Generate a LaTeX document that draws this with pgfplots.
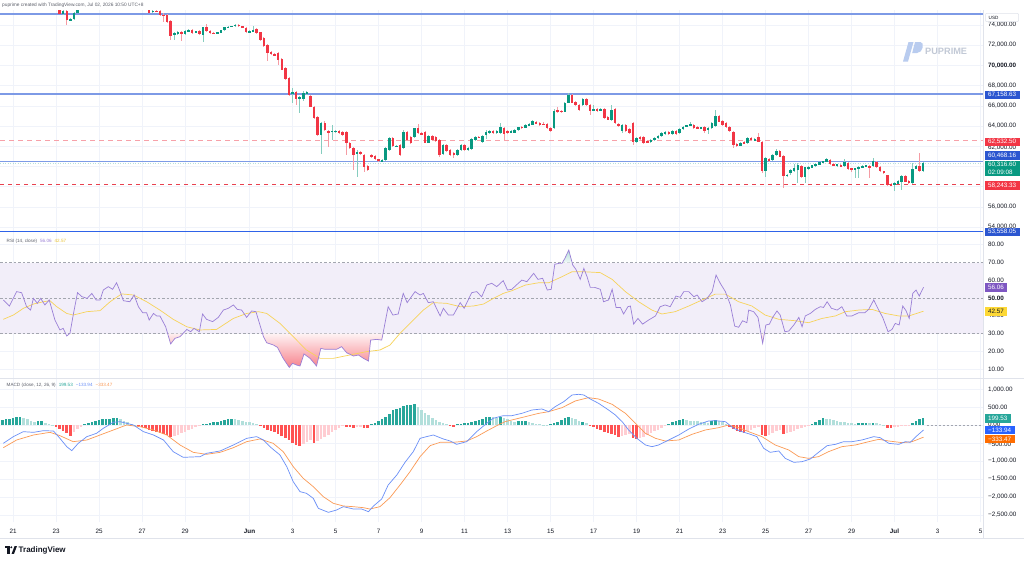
\documentclass[border=0pt]{standalone}
\usepackage{pgfplots}
\pgfplotsset{compat=1.18}
\usepackage{pgfplotstable}
\usepackage{fontspec}
\setmainfont{Liberation Sans}

\definecolor{txt}{HTML}{131722}
\definecolor{subtxt}{HTML}{5D606B}
\definecolor{gridc}{HTML}{F0F3FA}
\definecolor{sepc}{HTML}{E0E3EB}
\definecolor{upc}{HTML}{089981}
\definecolor{dnc}{HTML}{F23645}
\definecolor{upw}{HTML}{86CDBF}
\definecolor{dnw}{HTML}{F59CA4}
\definecolor{hline}{HTML}{7D9AE6}
\definecolor{hlinedk}{HTML}{2F63E8}
\definecolor{lvlpink}{HTML}{F7A1A9}
\definecolor{lvlred}{HTML}{E8414F}
\definecolor{curline}{HTML}{5FBFAE}
\definecolor{boxblue}{HTML}{2B56D0}
\definecolor{rsic}{HTML}{9A7FD6}
\definecolor{rsima}{HTML}{F7D35A}
\definecolor{rsiband}{RGB}{242,238,249}
\definecolor{rsidash}{HTML}{A3A6AF}
\definecolor{rsibox}{HTML}{7E57C2}
\definecolor{mabox}{HTML}{FDD835}
\definecolor{matxt}{HTML}{E9C232}
\definecolor{macdc}{HTML}{6A8FF7}
\definecolor{sigc}{HTML}{FB9A55}
\definecolor{hdg}{HTML}{26A69A}
\definecolor{hlg}{HTML}{B2DFDB}
\definecolor{hdr}{HTML}{FF5252}
\definecolor{hlr}{HTML}{FFCDD2}
\definecolor{macdbox}{HTML}{2962FF}
\definecolor{sigbox}{HTML}{FF6D00}
\definecolor{wm}{HTML}{B9CCEF}
\definecolor{wmtxt}{HTML}{C2C9D6}

% 4-hour candles, x = candle index (6 per day), prices in thousands of USD
\pgfplotstableread{
k o h l c
123 76.80 77.00 76.50 76.60
124 76.60 76.90 76.40 76.70
125 76.70 76.80 76.20 76.30
126 76.30 76.60 76.10 76.50
127 76.50 77.00 76.40 76.90
128 76.90 77.10 76.60 76.70
129 76.70 76.80 76.20 76.30
130 76.30 76.50 75.90 76.00
131 76.00 76.60 75.90 76.50
132 76.50 76.60 76.10 76.20
133 76.20 76.70 76.10 76.60
134 76.60 76.70 76.20 76.30
135 76.30 76.50 76.10 76.40
136 76.40 76.50 75.80 75.90
137 75.90 76.00 75.60 75.70
138 75.70 75.80 75.55 75.60
139 75.60 75.70 75.05 75.09
140 75.12 75.45 75.00 75.36
141 75.36 75.50 73.97 74.47
142 74.47 74.70 74.35 74.62
143 74.55 75.30 74.45 75.22
144 75.22 75.70 75.15 75.55
145 75.55 76.20 75.52 76.00
146 76.00 76.50 75.90 76.30
147 76.30 76.90 76.20 76.80
148 76.80 77.20 76.60 77.00
149 77.00 77.30 76.70 76.80
150 76.80 77.10 76.60 77.00
151 77.00 77.50 76.90 77.40
152 77.40 77.60 77.10 77.20
153 77.20 77.80 77.10 77.70
154 77.70 78.00 77.50 77.90
155 77.90 78.00 77.30 77.40
156 77.40 77.50 76.90 77.00
157 77.00 77.20 76.80 77.10
158 77.10 77.40 76.90 77.30
159 77.30 77.40 76.70 76.80
160 76.80 76.90 76.30 76.40
161 76.40 76.60 76.00 76.20
162 76.20 76.30 75.80 75.90
163 75.90 76.00 75.60 75.70
164 75.70 75.80 75.15 75.20
165 75.30 75.50 75.20 75.40
166 75.40 75.50 75.25 75.32
167 75.42 75.55 74.90 75.02
168 75.02 75.20 74.30 74.95
169 75.00 75.10 74.20 74.30
170 74.37 74.45 72.49 72.88
171 72.98 73.30 72.50 73.21
172 73.11 73.40 73.00 73.31
173 73.31 73.40 72.39 73.20
174 73.14 73.50 73.05 73.44
175 73.37 73.60 73.30 73.53
176 73.53 73.60 73.10 73.21
177 73.30 73.45 73.20 73.40
178 73.40 73.50 73.05 73.14
179 73.04 73.85 72.29 73.80
180 73.80 74.13 73.35 73.38
181 73.40 73.50 73.10 73.24
182 73.24 73.35 73.10 73.20
183 73.20 73.35 73.15 73.30
184 73.25 73.55 73.20 73.50
185 73.50 73.80 73.45 73.77
186 73.77 73.90 73.70 73.85
187 73.85 73.95 73.80 73.90
188 73.90 74.10 73.85 74.02
189 74.02 74.10 73.85 73.90
190 73.90 73.95 73.75 73.80
191 73.75 73.80 73.25 73.30
192 73.30 73.50 73.25 73.40
193 73.35 73.90 73.30 73.55
194 73.60 73.70 73.15 73.20
195 73.30 73.35 72.45 72.50
196 72.70 72.80 71.85 71.90
197 72.00 72.10 70.40 71.25
198 71.30 71.40 71.00 71.10
199 71.10 71.20 70.90 71.00
200 71.20 71.30 70.04 70.55
201 70.60 70.70 69.50 69.55
202 69.70 69.80 68.60 68.70
203 68.80 68.90 67.00 67.07
204 67.17 67.73 66.25 67.40
205 67.40 67.50 66.08 66.67
206 66.64 66.95 65.26 66.84
207 66.64 67.50 66.50 67.30
208 67.20 67.50 67.10 67.40
209 66.97 67.10 65.85 65.91
210 65.90 66.00 64.70 64.76
211 64.86 64.95 63.05 63.11
212 63.11 64.40 61.23 64.27
213 64.27 64.50 63.50 63.60
214 63.50 63.60 61.95 63.40
215 63.40 64.10 62.60 63.55
216 63.45 63.60 63.35 63.50
217 63.50 63.60 63.25 63.30
218 63.40 63.50 63.00 63.10
219 63.44 63.50 61.13 62.29
220 62.30 62.40 61.70 61.79
221 61.80 61.90 59.65 61.14
222 61.23 61.60 58.98 61.46
223 61.46 61.55 61.15 61.23
224 61.13 61.20 59.40 59.91
225 60.04 60.10 59.50 59.65
226 61.13 61.25 60.80 60.90
227 61.03 61.10 60.60 60.70
228 60.70 60.75 60.40 60.50
229 60.50 60.70 60.45 60.60
230 60.64 61.90 60.55 61.80
231 61.63 62.95 61.55 62.80
232 62.80 62.90 61.90 62.00
233 62.00 62.15 61.90 62.05
234 62.10 62.20 61.00 61.10
235 61.79 63.60 61.70 63.44
236 63.44 63.55 62.50 62.60
237 62.90 63.00 62.20 62.30
238 62.94 63.85 62.85 63.77
239 63.77 64.20 63.20 63.27
240 63.30 63.40 63.10 63.20
241 63.44 63.50 62.30 62.35
242 62.35 63.10 62.30 63.00
243 63.00 63.10 62.50 62.60
244 62.90 63.00 62.40 62.50
245 62.60 62.70 60.95 61.13
246 61.20 62.20 61.10 62.10
247 62.10 62.20 61.40 61.50
248 61.60 61.70 61.05 61.13
249 61.30 61.40 60.80 61.10
250 61.13 61.70 61.05 61.60
251 61.60 62.20 61.50 62.10
252 62.10 62.20 61.50 61.60
253 61.65 61.90 61.55 61.80
254 61.70 62.80 61.60 62.70
255 62.60 63.00 62.50 62.90
256 62.95 63.05 62.80 62.85
257 62.45 63.10 62.35 63.00
258 63.10 63.60 62.70 63.40
259 63.30 63.60 63.20 63.50
260 63.50 63.60 63.20 63.30
261 63.30 63.60 63.25 63.50
262 63.30 64.30 63.20 63.95
263 63.77 63.90 62.60 63.20
264 63.50 63.60 63.25 63.35
265 63.35 63.60 63.30 63.55
266 63.35 63.70 63.30 63.65
267 63.60 63.95 63.50 63.90
268 63.95 64.05 63.75 63.80
269 63.85 64.20 63.80 64.15
270 64.05 64.30 64.00 64.20
271 64.15 64.55 64.10 64.45
272 64.40 64.50 64.20 64.25
273 64.30 64.40 64.05 64.10
274 64.24 64.35 64.10 64.18
275 64.20 64.30 63.75 63.80
276 63.80 63.90 63.45 63.55
277 63.77 65.70 63.70 65.52
278 65.60 65.90 65.30 65.45
279 65.50 65.60 65.30 65.40
280 65.42 66.40 65.35 66.31
281 66.31 67.30 66.25 67.07
282 67.07 67.20 66.25 66.31
283 66.35 66.45 65.95 66.05
284 66.10 66.20 65.45 65.55
285 66.05 66.80 65.95 66.70
286 66.70 66.80 66.00 66.10
287 66.10 66.20 65.10 65.45
288 65.55 66.10 65.45 65.70
289 65.65 65.75 65.40 65.50
290 65.50 65.75 65.45 65.65
291 65.68 65.80 64.70 64.76
292 64.90 65.00 64.55 64.60
293 64.60 66.10 64.50 65.60
294 65.68 65.80 64.20 64.27
295 64.20 64.30 63.95 64.00
296 63.50 64.20 63.30 64.10
297 64.10 64.20 63.40 63.50
298 63.70 63.80 63.20 63.30
299 64.27 64.35 62.10 62.45
300 62.45 62.95 62.35 62.85
301 62.90 63.00 62.60 62.70
302 62.90 63.00 62.25 62.35
303 62.50 62.60 62.30 62.35
304 62.40 62.70 62.35 62.60
305 62.60 62.95 62.50 62.85
306 62.80 63.10 62.75 63.00
307 63.00 63.40 62.95 63.30
308 63.20 63.50 63.15 63.40
309 63.40 63.50 63.10 63.20
310 63.20 63.60 63.15 63.50
311 63.55 63.65 63.10 63.20
312 63.30 63.80 63.25 63.75
313 63.70 64.00 63.65 63.95
314 63.95 64.15 63.90 64.10
315 64.10 64.35 64.05 64.20
316 64.10 64.20 63.75 63.80
317 63.90 64.00 63.75 63.80
318 63.80 63.95 63.75 63.90
319 63.95 64.05 63.30 63.55
320 63.60 63.90 63.20 63.80
321 63.80 64.35 63.75 64.30
322 64.00 65.55 63.95 65.00
323 65.00 65.10 64.35 64.40
324 64.50 64.60 64.05 64.10
325 64.30 64.40 63.85 63.90
326 63.95 64.05 63.45 63.50
327 63.44 63.50 61.80 62.15
328 62.20 62.30 61.95 62.05
329 62.05 62.40 62.00 62.35
330 62.40 62.50 62.20 62.30
331 62.30 62.95 62.25 62.85
332 62.85 62.95 62.50 62.60
333 62.55 62.80 62.50 62.70
334 62.95 63.30 62.40 62.45
335 62.45 62.50 59.30 59.55
336 59.55 60.90 58.98 60.80
337 60.75 60.85 60.40 60.50
338 60.60 61.20 60.50 61.10
339 61.10 61.75 61.00 61.50
340 61.50 61.60 60.90 60.95
341 61.03 61.10 57.83 59.05
342 59.05 59.30 59.00 59.20
343 59.30 59.70 59.20 59.60
344 59.50 60.20 59.40 59.80
345 59.60 60.35 58.40 60.10
346 60.04 60.15 58.90 58.98
347 58.98 59.95 58.40 59.90
348 59.70 60.00 59.60 59.95
349 59.85 60.15 59.80 60.10
350 60.00 60.30 59.95 60.25
351 60.15 60.45 60.10 60.40
352 60.35 60.55 60.30 60.50
353 60.45 60.80 60.40 60.70
354 60.65 60.75 60.15 60.20
355 60.25 60.30 60.00 60.05
356 60.05 60.25 59.95 60.20
357 60.10 60.20 59.90 59.95
358 60.00 60.70 59.95 60.40
359 60.30 60.40 59.65 59.70
360 59.80 59.85 59.40 59.65
361 59.65 59.85 58.90 59.80
362 59.70 60.00 58.85 59.95
363 59.90 60.10 59.85 60.05
364 59.95 60.15 59.90 60.10
365 60.05 60.15 58.90 59.90
366 60.00 60.80 59.95 60.50
367 60.45 60.55 59.85 59.90
368 59.95 60.00 59.45 59.50
369 59.50 59.55 59.25 59.30
370 59.15 59.20 58.10 58.16
371 58.30 58.35 58.05 58.10
372 58.20 58.45 57.60 58.40
373 58.30 58.70 58.25 58.60
374 58.45 59.15 57.67 59.05
375 59.10 59.20 58.45 58.50
376 58.60 58.65 58.30 58.40
377 58.33 60.31 58.25 59.71
378 59.75 60.10 59.70 60.00
379 60.05 61.30 59.45 59.50
380 59.50 60.40 59.45 60.3166
}\candles

% RSI (14) and its moving average
\pgfplotstableread{
k v
123.3 48.9
125.0 45.5
127.0 53.6
128.4 53.0
129.8 45.1
130.9 43.2
131.7 49.8
132.8 47.0
133.7 49.8
134.9 46.1
136.1 48.9
137.7 37.6
139.1 32.0
140.0 32.9
141.0 28.6
141.9 30.1
142.8 40.4
144.0 53.0
145.2 50.8
146.7 49.8
148.0 52.6
149.2 48.9
150.3 48.9
151.2 54.5
152.6 56.4
153.8 54.9
154.9 58.6
155.9 53.6
156.8 48.5
158.6 47.9
159.8 51.7
161.0 45.1
162.2 41.7
163.3 41.7
164.0 37.6
165.2 41.3
166.1 39.9
167.0 39.9
168.6 33.8
170.0 24.1
171.2 27.3
172.6 28.2
174.5 32.3
175.6 31.0
176.5 32.9
178.0 31.0
178.9 41.0
180.0 38.0
181.7 36.7
183.3 39.1
184.7 43.2
186.1 44.2
187.5 46.1
188.6 43.6
189.8 43.2
191.2 39.1
192.6 42.7
193.8 42.3
195.9 28.2
196.8 24.8
198.7 23.5
199.8 22.2
201.4 16.0
203.1 10.9
204.0 13.2
205.2 12.2
206.1 11.7
207.2 18.5
208.9 16.0
210.7 11.7
211.9 21.6
213.1 21.1
214.5 21.1
216.3 21.1
217.7 22.6
219.1 19.2
221.0 17.3
222.4 17.9
223.8 16.0
225.2 14.5
225.8 26.3
227.5 26.7
228.9 26.3
230.7 45.1
232.0 40.4
233.5 41.0
234.9 52.6
236.0 47.4
238.2 53.6
239.6 51.7
240.5 52.6
241.9 47.4
243.3 47.9
245.2 39.9
246.1 44.2
247.5 40.4
248.9 40.4
250.8 47.4
251.9 44.2
254.0 53.0
255.4 53.6
256.8 50.7
258.2 57.3
259.6 58.3
261.0 56.4
262.8 59.8
264.0 54.5
265.2 54.9
266.2 56.8
268.0 60.1
269.4 59.2
271.3 63.9
272.5 60.5
273.8 61.1
275.1 54.5
276.2 54.9
277.2 69.0
278.3 69.5
279.2 69.5
280.0 72.3
281.1 77.0
282.2 68.6
283.1 66.1
284.3 60.5
285.3 66.7
286.2 62.0
287.1 56.0
288.3 56.0
289.9 54.9
290.8 47.9
292.2 48.9
293.2 54.9
294.3 44.7
295.5 44.7
296.4 41.0
297.6 45.1
298.3 45.5
299.2 35.3
300.4 38.5
301.7 35.3
303.4 37.6
305.3 39.9
306.6 45.1
308.0 46.1
309.4 45.1
311.0 51.1
312.2 50.4
313.2 53.6
314.6 53.6
316.0 50.7
316.9 51.7
318.3 47.9
319.7 49.8
321.1 53.6
322.2 62.9
323.4 58.2
324.8 53.6
326.2 46.1
327.4 34.2
328.5 33.5
329.6 37.2
330.8 36.1
331.3 43.2
332.7 42.3
333.9 39.1
335.2 24.5
336.1 34.8
337.1 35.3
338.0 39.1
339.2 42.7
340.1 40.4
341.4 31.0
342.5 31.4
343.9 34.8
345.3 39.1
346.2 33.8
347.1 39.9
348.5 41.3
349.9 43.6
351.3 45.1
352.2 44.7
353.2 47.9
354.4 44.2
356.0 43.2
357.3 45.1
358.7 39.9
360.1 39.9
362.0 41.7
363.7 41.7
364.8 43.6
366.2 48.9
367.6 43.2
368.7 39.1
370.2 31.0
371.3 32.3
372.2 35.7
373.3 34.8
374.3 45.5
375.2 42.9
376.1 38.5
377.1 52.6
378.0 54.5
378.9 51.1
380.1 56.06
}\rsi

\pgfplotstableread{
k v
123.3 38.0
126.1 40.4
128.9 44.2
131.7 46.6
134.5 47.9
136.3 48.5
138.2 45.1
141.0 41.3
142.8 40.4
146.6 42.3
150.3 42.9
153.1 47.9
156.3 52.3
159.6 51.7
163.3 47.9
167.0 43.2
170.7 38.0
174.5 33.8
178.2 32.0
182.8 32.3
187.5 38.5
191.2 41.3
194.5 42.3
196.8 41.3
200.5 35.7
204.2 28.2
207.9 20.7
211.7 16.0
215.4 16.0
220.0 17.9
224.7 19.8
228.4 20.7
231.2 23.5
234.0 30.1
237.7 37.6
240.5 43.2
243.3 47.4
247.0 47.0
250.8 45.1
254.5 45.5
257.3 46.6
260.1 49.8
262.8 52.6
265.2 54.1
269.0 57.3
272.7 58.6
275.5 58.6
279.2 62.0
282.0 64.8
285.3 64.8
289.9 64.3
293.2 60.5
296.9 53.6
300.6 47.9
304.3 43.2
307.1 41.0
310.8 42.3
314.6 45.5
318.3 48.9
322.0 52.2
324.8 52.2
328.5 47.9
332.2 45.5
335.9 40.4
339.7 38.0
344.3 37.2
348.0 36.1
351.8 38.5
355.5 39.9
358.3 42.3
362.0 43.2
365.7 43.6
369.4 41.3
373.2 39.9
376.0 39.9
380.1 42.57
}\rsima

% MACD (12, 26, 9): line, signal, histogram (c: 0 rising up, 1 falling up, 2 falling down, 3 rising down)
\pgfplotstableread{
k v
123.3 -505
126.1 -319
128.9 -180
131.7 -199
134.5 -152
137.3 -162
139.1 -366
141.0 -598
142.4 -709
144.2 -505
146.6 -319
149.3 -227
151.2 -87
154.0 80
155.9 98
159.6 5
162.4 -180
165.2 -273
168.0 -412
170.7 -737
173.5 -895
178.2 -876
180.0 -783
183.8 -718
187.5 -551
191.2 -366
194.0 -319
195.9 -412
197.7 -598
200.5 -830
202.4 -1155
204.2 -1573
206.1 -1851
207.9 -1897
209.8 -2037
211.2 -2315
214.0 -2427
216.3 -2362
218.2 -2269
221.0 -2334
223.3 -2334
225.2 -2408
226.6 -2250
228.9 -2055
230.7 -1665
233.1 -1387
235.4 -1034
237.7 -737
239.6 -366
241.4 -319
243.3 -273
246.1 -384
248.0 -440
249.8 -533
252.6 -459
255.4 -180
258.2 52
260.0 191
262.8 265
265.2 265
268.0 330
270.8 423
273.6 451
275.5 377
277.3 516
279.7 655
282.0 841
283.9 860
285.3 841
287.1 730
289.4 609
292.2 423
294.1 284
296.0 98
297.8 -134
300.1 -366
302.5 -551
304.3 -598
306.2 -551
309.0 -412
311.8 -273
314.6 -106
317.3 24
320.1 117
322.0 126
324.8 98
327.1 -87
329.4 -180
331.8 -254
333.6 -319
335.5 -644
337.3 -756
339.7 -718
341.5 -923
343.9 -1034
346.2 -1016
348.5 -941
350.8 -756
353.2 -570
355.5 -533
357.8 -459
360.1 -459
362.9 -412
366.2 -319
368.0 -347
370.4 -505
373.2 -533
375.0 -459
376.4 -477
378.3 -291
380.1 -133.94
}\macd

\pgfplotstableread{
k v
123.3 -626
127.0 -412
131.7 -273
136.3 -199
139.1 -292
142.8 -459
146.6 -412
150.3 -273
154.0 -134
157.7 5
161.4 -41
165.2 -134
168.9 -273
172.6 -551
176.3 -756
180.0 -811
183.8 -756
187.5 -626
191.2 -459
194.9 -384
198.6 -505
201.4 -737
204.2 -1155
207.0 -1480
209.8 -1712
212.6 -1990
215.4 -2176
218.2 -2250
221.0 -2269
223.8 -2297
225.6 -2334
228.4 -2269
231.2 -2018
234.0 -1665
236.8 -1294
239.6 -876
242.4 -570
245.2 -477
248.9 -477
252.6 -440
255.4 -319
258.2 -162
261.0 -13
263.3 98
265.2 145
269.0 238
272.7 330
275.5 377
279.2 488
282.9 674
286.6 767
289.4 730
293.2 581
296.9 330
299.7 52
302.5 -227
305.3 -366
308.0 -440
311.8 -412
315.5 -254
319.2 -134
322.9 -69
325.7 5
328.5 -69
331.3 -180
335.0 -319
338.7 -551
342.5 -691
345.3 -876
348.0 -923
350.8 -876
353.6 -737
357.3 -598
361.1 -551
364.8 -459
367.6 -394
370.4 -440
374.1 -486
376.9 -459
380.1 -333.47
}\signal

\pgfplotstableread{
k v c
123 145 0
124 165 0
125 185 0
126 195 0
127 215 0
128 225 0
129 190 1
130 160 1
131 130 1
132 100 1
133 110 0
134 120 0
135 60 1
136 30 1
137 10 1
138 -50 2
139 -100 2
140 -160 2
141 -230 2
142 -290 2
143 -200 3
144 -110 3
145 -40 3
146 40 0
147 70 0
148 100 0
149 120 0
150 140 0
151 160 0
152 175 0
153 185 0
154 200 0
155 210 0
156 160 1
157 120 1
158 80 1
159 40 1
160 10 1
161 -25 2
162 -60 2
163 -90 2
164 -120 2
165 -150 2
166 -180 2
167 -210 2
168 -240 2
169 -280 2
170 -330 2
171 -310 3
172 -260 3
173 -220 3
174 -180 3
175 -140 3
176 -100 3
177 -60 3
178 -20 3
179 20 0
180 40 0
181 60 0
182 80 0
183 100 0
184 120 0
185 140 0
186 160 0
187 175 0
188 160 1
189 140 1
190 120 1
191 100 1
192 80 1
193 60 1
194 40 1
195 -30 2
196 -80 2
197 -130 2
198 -170 2
199 -200 2
200 -240 2
201 -290 2
202 -350 2
203 -420 2
204 -500 2
205 -560 2
206 -570 2
207 -530 3
208 -470 3
209 -420 3
210 -500 2
211 -450 3
212 -380 3
213 -320 3
214 -260 3
215 -200 3
216 -140 3
217 -80 3
218 -20 3
219 -45 2
220 -60 2
221 -70 2
222 -50 3
223 -40 3
224 -80 2
225 -90 2
226 20 0
227 60 0
228 110 0
229 170 0
230 230 0
231 300 0
232 420 0
233 450 0
234 470 0
235 540 0
236 550 0
237 570 0
238 590 0
239 500 1
240 420 1
241 350 1
242 280 1
243 210 1
244 150 1
245 90 1
246 50 1
247 20 1
248 -30 2
249 -45 2
250 20 0
251 30 0
252 50 0
253 60 0
254 90 0
255 120 0
256 150 0
257 180 0
258 220 0
259 240 0
260 220 1
261 210 1
262 215 0
263 210 1
264 170 1
265 130 1
266 100 1
267 110 0
268 120 0
269 125 0
270 90 1
271 60 1
272 40 1
273 25 1
274 10 1
275 5 1
276 20 0
277 60 0
278 100 0
279 150 0
280 200 0
281 240 0
282 200 1
283 160 1
284 120 1
285 100 0
286 60 1
287 -20 2
288 -60 2
289 -100 2
290 -140 2
291 -180 2
292 -220 2
293 -250 2
294 -280 2
295 -320 2
296 -300 3
297 -260 3
298 -240 3
299 -370 2
300 -380 2
301 -360 3
302 -320 3
303 -270 3
304 -220 3
305 -170 3
306 -120 3
307 -70 3
308 -20 3
309 40 0
310 80 0
311 110 0
312 140 0
313 165 0
314 150 1
315 130 1
316 120 1
317 110 1
318 95 1
319 80 1
320 60 1
321 120 0
322 150 0
323 110 1
324 80 1
325 40 1
326 -40 2
327 -100 2
328 -150 2
329 -190 2
330 -210 2
331 -170 3
332 -130 3
333 -90 3
334 -60 3
335 -280 2
336 -310 2
337 -270 3
338 -220 3
339 -170 3
340 -120 3
341 -250 2
342 -230 3
343 -190 3
344 -150 3
345 -110 3
346 -80 3
347 -40 3
348 -20 3
349 40 0
350 90 0
351 140 0
352 190 0
353 180 1
354 160 1
355 140 1
356 120 1
357 100 1
358 90 1
359 70 1
360 50 1
361 40 1
362 60 0
363 70 0
364 75 0
365 70 1
366 75 0
367 50 1
368 30 1
369 10 1
370 -70 2
371 -90 2
372 -60 3
373 -40 3
374 -30 3
375 -25 3
376 -20 3
377 60 0
378 110 0
379 160 0
380 199.53 0
}\hist

\pgfplotsset{
  pane/.style={scale only axis, width=983pt, xmin=122.37, xmax=396.7,
    axis line style={draw=none}, tick style={draw=none},
    xtick={126,138,150,162,174,192,204,216,228,240,252,264,276,288,300,312,324,336,348,360,372,384,396},
    xmajorgrids, ymajorgrids, grid style={gridc, line width=0.6pt},
    xticklabels={}, yticklabels={}},
  wick/.style={only marks, mark=*, mark size=0pt, mark options={draw=none, fill=none}, forget plot,
    /pgfplots/error bars/y dir=both, /pgfplots/error bars/y explicit,
    /pgfplots/error bars/error mark=none,
    /pgfplots/error bars/error bar style={line width=0.8pt, draw=#1}},
  body/.style={only marks, mark=*, mark size=0pt, mark options={draw=none, fill=none}, forget plot,
    /pgfplots/error bars/y dir=both, /pgfplots/error bars/y explicit,
    /pgfplots/error bars/error mark=none,
    /pgfplots/error bars/error bar style={line width=2.5pt, draw=#1}},
  hbar/.style={ycomb, no marks, line width=2.6pt, draw=#1, forget plot},
}
\tikzset{
  lab/.style={anchor=west, inner sep=0pt, font=\fontsize{6.3}{7}\selectfont, text=txt},
  tag/.style={anchor=west, inner xsep=3.6pt, inner ysep=0pt, minimum height=8.4pt,
    font=\fontsize{6.3}{7}\selectfont, text=white, fill=#1},
  ttl/.style={anchor=west, inner sep=0pt, font=\fontsize{4.6}{5}\selectfont},
}

\begin{document}
\begin{tikzpicture}
\fill[white] (0pt,0pt) rectangle (1024pt,-562pt);
\path[use as bounding box] (0pt,0pt) rectangle (1024pt,-562pt);

% ---------------- price pane ----------------
\begin{axis}[pane, at={(0pt,-234pt)}, anchor=south west, height=224pt,
  ymin=53.31, ymax=75.485, ytick={54,56,...,74}]
  \addplot[hline, line width=1.5pt, forget plot] coordinates {(122.37,75.09) (396.7,75.09)};
  \addplot[hline, line width=1.5pt, forget plot] coordinates {(122.37,67.15863) (396.7,67.15863)};
  \addplot[curline, opacity=0.45, line width=0.5pt, dash pattern=on 1pt off 1.5pt, forget plot] coordinates {(122.37,60.3166) (396.7,60.3166)};
  \addplot[hline, line width=1.5pt, forget plot] coordinates {(122.37,60.46816) (396.7,60.46816)};
  \addplot[hlinedk, line width=1.1pt, forget plot] coordinates {(122.37,53.55805) (396.7,53.55805)};
  \addplot[lvlpink, line width=1pt, dash pattern=on 5pt off 4pt, forget plot] coordinates {(122.37,62.5325) (396.7,62.5325)};
  \addplot[lvlred, line width=0.8pt, dash pattern=on 4pt off 4pt, forget plot] coordinates {(122.37,58.24333) (396.7,58.24333)};
  % wicks
  \addplot[wick=dnw, restrict expr to domain={\thisrow{c}-\thisrow{o}}{-100:-0.000001}]
    table[x=k, y expr={(\thisrow{h}+\thisrow{l})/2}, y error expr={(\thisrow{h}-\thisrow{l})/2}] {\candles};
  \addplot[wick=upw, restrict expr to domain={\thisrow{c}-\thisrow{o}}{0:100}]
    table[x=k, y expr={(\thisrow{h}+\thisrow{l})/2}, y error expr={(\thisrow{h}-\thisrow{l})/2}] {\candles};
  % bodies
  \addplot[body=dnc, restrict expr to domain={\thisrow{c}-\thisrow{o}}{-100:-0.000001}]
    table[x=k, y expr={(\thisrow{o}+\thisrow{c})/2}, y error expr={max(abs(\thisrow{c}-\thisrow{o})/2,0.025)}] {\candles};
  \addplot[body=upc, restrict expr to domain={\thisrow{c}-\thisrow{o}}{0:100}]
    table[x=k, y expr={(\thisrow{o}+\thisrow{c})/2}, y error expr={max(abs(\thisrow{c}-\thisrow{o})/2,0.025)}] {\candles};
\end{axis}

% ---------------- RSI pane ----------------
\begin{axis}[pane, at={(0pt,-378pt)}, anchor=south west, height=144pt,
  ymin=4.93, ymax=86.06, ytick={10,20,60,80}]
  \addplot[fill=rsiband, draw=none, forget plot] coordinates {(122.37,30) (396.7,30) (396.7,70) (122.37,70)};
  \addplot[rsidash, line width=0.6pt, dash pattern=on 2.5pt off 2pt, forget plot] coordinates {(122.37,70) (396.7,70)};
  \addplot[rsidash, line width=0.6pt, dash pattern=on 2.5pt off 2pt, forget plot] coordinates {(122.37,50) (396.7,50)};
  \addplot[rsidash, line width=0.6pt, dash pattern=on 2.5pt off 2pt, forget plot] coordinates {(122.37,30) (396.7,30)};
  % oversold / overbought zones
  \addplot[draw=none, top color=dnc!6, bottom color=dnc!62, forget plot] coordinates {
    (195.63,30) (195.9,28.2) (196.8,24.8) (198.7,23.5) (199.8,22.2) (201.4,16.0) (203.1,10.9)
    (204.0,13.2) (205.2,12.2) (206.1,11.7) (207.2,18.5) (208.9,16.0) (210.7,11.7) (211.9,21.6)
    (213.1,21.1) (214.5,21.1) (216.3,21.1) (217.7,22.6) (219.1,19.2) (221.0,17.3) (222.4,17.9)
    (223.8,16.0) (225.2,14.5) (225.8,26.3) (227.5,26.7) (228.9,26.3) (229.25,30)};
  \addplot[draw=none, top color=dnc!8, bottom color=dnc!30, forget plot] coordinates {
    (169.15,30) (170.0,24.1) (171.2,27.3) (172.6,28.2) (173.43,30)};
  \addplot[draw=none, top color=dnc!8, bottom color=dnc!30, forget plot] coordinates {
    (334.71,30) (335.2,24.5) (335.68,30)};
  \addplot[draw=none, top color=upc!30, bottom color=upc!6, forget plot] coordinates {
    (279.34,70) (280.0,72.3) (281.1,77.0) (282.02,70)};
  \addplot[rsima, line width=0.7pt] table[x=k, y=v] {\rsima};
  \addplot[rsic, line width=0.7pt] table[x=k, y=v] {\rsi};
\end{axis}

% ---------------- MACD pane ----------------
\begin{axis}[pane, at={(0pt,-522pt)}, anchor=south west, height=144pt,
  ymin=-2696, ymax=1314, ytick={-2500,-2000,...,1000},
  xticklabels={21,23,25,27,29,\textbf{Jun},3,5,7,9,11,13,15,17,19,21,23,25,27,29,\textbf{Jul},3,5},
  xticklabel style={font=\fontsize{6.3}{7}\selectfont, text=txt, anchor=center, yshift=-9pt, inner sep=0pt}]
  \addplot[hbar=hdg, restrict expr to domain={\thisrow{c}}{-0.5:0.5}] table[x=k, y=v] {\hist};
  \addplot[hbar=hlg, restrict expr to domain={\thisrow{c}}{0.5:1.5}] table[x=k, y=v] {\hist};
  \addplot[hbar=hdr, restrict expr to domain={\thisrow{c}}{1.5:2.5}] table[x=k, y=v] {\hist};
  \addplot[hbar=hlr, restrict expr to domain={\thisrow{c}}{2.5:3.5}] table[x=k, y=v] {\hist};
  \addplot[rsidash, line width=0.5pt, dash pattern=on 2pt off 2pt, forget plot] coordinates {(381,0) (396.7,0)};
  \addplot[sigc, line width=0.7pt] table[x=k, y=v] {\signal};
  \addplot[macdc, line width=0.7pt] table[x=k, y=v] {\macd};
\end{axis}

% pane borders
\draw[sepc, line width=0.5pt] (0pt,-378.5pt) -- (1024pt,-378.5pt);
\draw[sepc, line width=0.6pt] (0pt,-538pt) -- (1024pt,-538pt);
\draw[sepc, line width=0.5pt] (983pt,-10pt) -- (983pt,-538pt);

% header
\node[anchor=west, inner sep=0pt, font=\fontsize{4.8}{5}\selectfont, text=subtxt] at (2pt,-5pt)
  {puprime created with TradingView.com, Jul 02, 2026 10:50 UTC+8};

% watermark
\fill[wm] (903pt,-61.5pt) -- (908.5pt,-42pt) -- (913.5pt,-42pt) -- (908pt,-61.5pt) -- cycle;
\fill[wm] (915pt,-42pt) -- (920.5pt,-42pt) .. controls (924.5pt,-42pt) and (923.5pt,-53pt) .. (917pt,-53pt) -- (912.2pt,-53pt) -- cycle;
\node[anchor=west, inner sep=0pt, font=\fontsize{9.2}{10}\selectfont\bfseries, text=wmtxt] at (925pt,-51.8pt) {PUPRIME};

% price scale
\node[lab] at (988pt,-25pt) {74,000.00};
\node[lab] at (988pt,-45.2pt) {72,000.00};
\node[lab, font=\fontsize{6.3}{7}\selectfont\bfseries] at (988pt,-65.4pt) {70,000.00};
\node[lab] at (988pt,-85.6pt) {68,000.00};
\node[lab] at (988pt,-105.8pt) {66,000.00};
\node[lab] at (988pt,-126pt) {64,000.00};
\node[lab] at (988pt,-147.5pt) {62,000.00};
\node[lab] at (988pt,-206.8pt) {56,000.00};
\node[lab] at (988pt,-227pt) {54,000.00};
\filldraw[fill=white, draw=sepc, line width=0.5pt, rounded corners=1pt] (985.5pt,-13.3pt) rectangle (1018.5pt,-21.7pt);
\node[anchor=west, inner sep=0pt, font=\fontsize{4.6}{5}\selectfont, text=txt] at (988.5pt,-17.5pt) {USD};
\node[tag=boxblue] at (984.3pt,-95pt) {67,158.63};
\node[tag=dnc] at (984.3pt,-142pt) {62,532.50};
\node[tag=boxblue] at (984.3pt,-155.5pt) {60,468.16};
\node[tag=upc, align=left, minimum height=15.6pt, font=\fontsize{6.3}{7.6}\selectfont] at (984.3pt,-168.3pt) {60,316.60\\02:09:08};
\node[tag=dnc] at (984.3pt,-185.5pt) {58,243.33};
\node[tag=boxblue] at (984.3pt,-232pt) {53,558.05};

% RSI scale
\node[lab] at (988pt,-244.75pt) {80.00};
\node[lab] at (988pt,-262.5pt) {70.00};
\node[lab] at (988pt,-280.25pt) {60.00};
\node[lab, font=\fontsize{6.3}{7}\selectfont\bfseries] at (988pt,-298pt) {50.00};
\node[lab] at (988pt,-315.75pt) {40.00};
\node[lab] at (988pt,-333.5pt) {30.00};
\node[lab] at (988pt,-351.25pt) {20.00};
\node[lab] at (988pt,-369pt) {10.00};
\node[tag=rsibox] at (984.3pt,-287.4pt) {56.06};
\node[tag=mabox, text=txt] at (984.3pt,-311.3pt) {42.57};

% MACD scale
\node[lab] at (988pt,-389.3pt) {1,000.00};
\node[lab] at (988pt,-407.2pt) {500.00};
\node[lab] at (988pt,-424.6pt) {0.00};
\node[lab] at (988pt,-444.5pt) {−500.00};
\node[lab] at (988pt,-461.1pt) {−1,000.00};
\node[lab] at (988pt,-479.1pt) {−1,500.00};
\node[lab] at (988pt,-497pt) {−2,000.00};
\node[lab] at (988pt,-515pt) {−2,500.00};
\node[tag=hdg, minimum width=25.5pt, anchor=west] at (984.3pt,-418.5pt) {199.53};
\node[tag=macdbox, minimum width=25.5pt] at (984.3pt,-430pt) {−133.94};
\node[tag=sigbox, minimum width=25.5pt] at (984.3pt,-439.2pt) {−333.47};

% pane titles
\node[ttl] at (6.5pt,-241.3pt) {\textcolor{subtxt}{RSI (14, close)}\hspace{3pt}\textcolor{rsic}{56.06}\hspace{3pt}\textcolor{matxt}{42.57}};
\node[ttl] at (6.5pt,-385.7pt) {\textcolor{subtxt}{MACD (close, 12, 26, 9)}\hspace{3pt}\textcolor{hdg}{199.53}\hspace{3pt}\textcolor{macdc}{−133.94}\hspace{3pt}\textcolor{sigc}{−333.47}};

% footer logo
\fill[txt] (4.5pt,-546pt) rectangle (9.8pt,-548.3pt);
\fill[txt] (7.3pt,-548.3pt) rectangle (9.8pt,-553.8pt);
\fill[txt] (11.3pt,-547.3pt) circle (1.1pt);
\fill[txt] (11.6pt,-553.8pt) -- (14.6pt,-546pt) -- (17pt,-546pt) -- (14pt,-553.8pt) -- cycle;
\node[anchor=west, inner sep=0pt, font=\fontsize{8}{9}\selectfont\bfseries, text=txt] at (18.5pt,-550pt) {TradingView};
\end{tikzpicture}
\end{document}
